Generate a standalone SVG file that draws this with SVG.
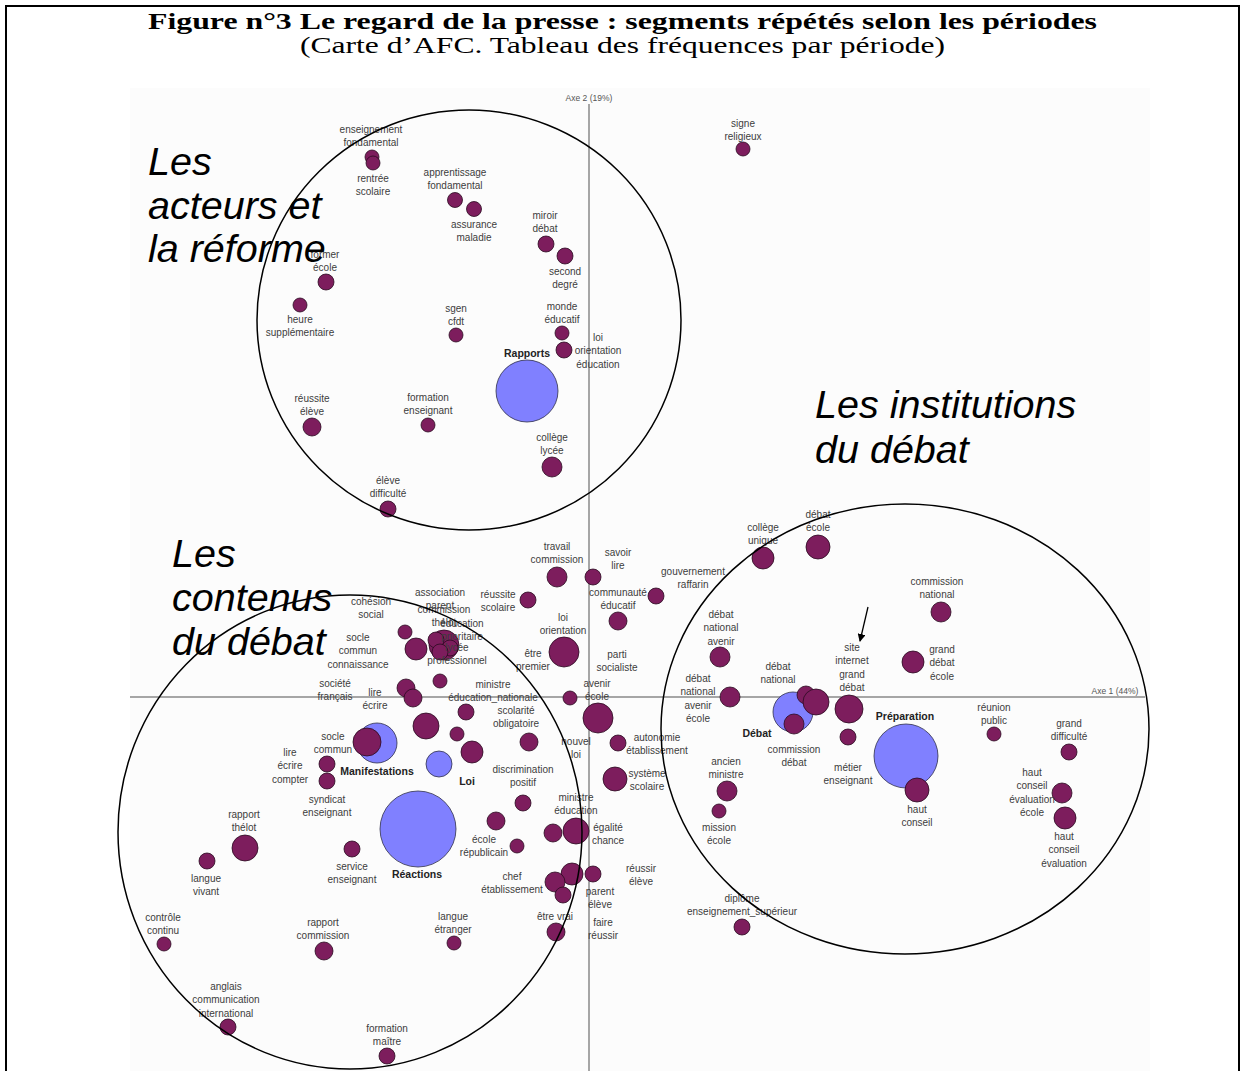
<svg xmlns="http://www.w3.org/2000/svg" width="1245" height="1071" viewBox="0 0 1245 1071">
<style>
.p{fill:#7d1d5d;stroke:#2a0a20;stroke-width:0.8}
.b{fill:#8080ff;stroke:#30304a;stroke-width:0.8}
.l{font-family:"Liberation Sans",Arial,sans-serif;font-size:10px;fill:#3c3c3c;text-anchor:middle}
.lb{font-family:"Liberation Sans",Arial,sans-serif;font-size:10.5px;font-weight:bold;fill:#222;text-anchor:middle}
.big{font-family:"Liberation Sans",Arial,sans-serif;font-style:italic;font-size:39.5px;fill:#000}
.zone{fill:none;stroke:#000;stroke-width:1.5}
.axis{stroke:#8a8a8a;stroke-width:1.5}
.ax{font-family:"Liberation Sans",Arial,sans-serif;font-size:8.5px;fill:#555;text-anchor:middle}
.t{font-family:"Liberation Serif","Times New Roman",serif;font-size:23px;fill:#000;text-anchor:middle}
</style>
<defs>
<marker id="ah" markerWidth="8" markerHeight="8" refX="7" refY="4" orient="auto" markerUnits="userSpaceOnUse">
<path d="M0,0 L8,4 L0,8 Z" fill="#000"/>
</marker>
</defs>
<rect x="0" y="0" width="1245" height="1071" fill="#fff"/>
<path d="M6,1071 V6 H1239 V1071" fill="none" stroke="#000" stroke-width="2"/>
<text class="t" x="622.5" y="29" font-weight="bold" textLength="949" lengthAdjust="spacingAndGlyphs">Figure n°3 Le regard de la presse : segments répétés selon les périodes</text>
<text class="t" x="622.5" y="53" textLength="645" lengthAdjust="spacingAndGlyphs">(Carte d’AFC. Tableau des fréquences par période)</text>
<rect x="130" y="88" width="1020" height="983" fill="#fcfcfc"/>
<g id="axes">
<line class="axis" x1="589" y1="104" x2="589" y2="1071"/>
<line class="axis" x1="130" y1="697" x2="1145" y2="697"/>
<text class="ax" x="589" y="101">Axe 2 (19%)</text>
<text class="ax" x="1115" y="694">Axe 1 (44%)</text>
</g>
<g id="periods">
<g id="rapports"><circle class="b" cx="527" cy="391" r="31"/><text class="lb" x="527" y="357">Rapports</text></g>
<g id="manifestations"><circle class="b" cx="377" cy="743" r="20"/><text class="lb" x="377" y="775">Manifestations</text></g>
<g id="loi"><circle class="b" cx="439" cy="764" r="13"/><text class="lb" x="467" y="785">Loi</text></g>
<g id="reactions"><circle class="b" cx="418" cy="829" r="38"/><text class="lb" x="417" y="878">Réactions</text></g>
<g id="debat"><circle class="b" cx="793" cy="712" r="20"/><text class="lb" x="757" y="737">Débat</text></g>
<g id="preparation"><circle class="b" cx="906" cy="756" r="32"/><text class="lb" x="905" y="720">Préparation</text></g>
</g>
<g id="segments">
<g id="s1"><circle class="p" cx="372" cy="157" r="7"/><text class="l" x="371" y="132.5"><tspan x="371">enseignement</tspan><tspan x="371" dy="13.5">fondamental</tspan></text></g>
<g id="s2"><circle class="p" cx="373" cy="163" r="7"/><text class="l" x="373" y="181.5"><tspan x="373">rentrée</tspan><tspan x="373" dy="13.5">scolaire</tspan></text></g>
<g id="s3"><circle class="p" cx="455" cy="200" r="7.5"/><text class="l" x="455" y="175.5"><tspan x="455">apprentissage</tspan><tspan x="455" dy="13.5">fondamental</tspan></text></g>
<g id="s4"><circle class="p" cx="474" cy="209" r="7.5"/><text class="l" x="474" y="227.5"><tspan x="474">assurance</tspan><tspan x="474" dy="13.5">maladie</tspan></text></g>
<g id="s5"><circle class="p" cx="546" cy="244" r="8"/><text class="l" x="545" y="218.5"><tspan x="545">miroir</tspan><tspan x="545" dy="13.5">débat</tspan></text></g>
<g id="s6"><circle class="p" cx="565" cy="256" r="8"/><text class="l" x="565" y="274.5"><tspan x="565">second</tspan><tspan x="565" dy="13.5">degré</tspan></text></g>
<g id="s7"><circle class="p" cx="326" cy="282" r="8"/><text class="l" x="325" y="257.5"><tspan x="325">former</tspan><tspan x="325" dy="13.5">école</tspan></text></g>
<g id="s8"><circle class="p" cx="300" cy="305" r="7"/><text class="l" x="300" y="322.5"><tspan x="300">heure</tspan><tspan x="300" dy="13.5">supplémentaire</tspan></text></g>
<g id="s9"><circle class="p" cx="456" cy="335" r="7"/><text class="l" x="456" y="311.5"><tspan x="456">sgen</tspan><tspan x="456" dy="13.5">cfdt</tspan></text></g>
<g id="s10"><circle class="p" cx="562" cy="333" r="7"/><text class="l" x="562" y="309.5"><tspan x="562">monde</tspan><tspan x="562" dy="13.5">éducatif</tspan></text></g>
<g id="s11"><circle class="p" cx="564" cy="350" r="8"/><text class="l" x="598" y="340.5"><tspan x="598">loi</tspan><tspan x="598" dy="13.5">orientation</tspan><tspan x="598" dy="13.5">éducation</tspan></text></g>
<g id="s12"><circle class="p" cx="312" cy="427" r="9"/><text class="l" x="312" y="401.5"><tspan x="312">réussite</tspan><tspan x="312" dy="13.5">élève</tspan></text></g>
<g id="s13"><circle class="p" cx="428" cy="425" r="7"/><text class="l" x="428" y="400.5"><tspan x="428">formation</tspan><tspan x="428" dy="13.5">enseignant</tspan></text></g>
<g id="s14"><circle class="p" cx="552" cy="467" r="10"/><text class="l" x="552" y="440.5"><tspan x="552">collège</tspan><tspan x="552" dy="13.5">lycée</tspan></text></g>
<g id="s15"><circle class="p" cx="388" cy="509" r="8"/><text class="l" x="388" y="483.5"><tspan x="388">élève</tspan><tspan x="388" dy="13.5">difficulté</tspan></text></g>
<g id="s16"><circle class="p" cx="743" cy="149" r="7"/><text class="l" x="743" y="126.5"><tspan x="743">signe</tspan><tspan x="743" dy="13.5">religieux</tspan></text></g>
<g id="s17"><circle class="p" cx="557" cy="577" r="10"/><text class="l" x="557" y="549.5"><tspan x="557">travail</tspan><tspan x="557" dy="13.5">commission</tspan></text></g>
<g id="s18"><circle class="p" cx="593" cy="577" r="8"/><text class="l" x="618" y="555.5"><tspan x="618">savoir</tspan><tspan x="618" dy="13.5">lire</tspan></text></g>
<g id="s19"><circle class="p" cx="528" cy="600" r="8"/><text class="l" x="498" y="597.5"><tspan x="498">réussite</tspan><tspan x="498" dy="13.5">scolaire</tspan></text></g>
<g id="s20"><circle class="p" cx="618" cy="621" r="9"/><text class="l" x="618" y="595.5"><tspan x="618">communauté</tspan><tspan x="618" dy="13.5">éducatif</tspan></text></g>
<g id="s21"><circle class="p" cx="656" cy="596" r="8"/><text class="l" x="693" y="574.5"><tspan x="693">gouvernement</tspan><tspan x="693" dy="13.5">raffarin</tspan></text></g>
<g id="s22"><circle class="p" cx="564" cy="652" r="15"/><text class="l" x="563" y="620.5"><tspan x="563">loi</tspan><tspan x="563" dy="13.5">orientation</tspan></text></g>
<g id="s23"><circle class="p" cx="570" cy="698" r="7"/><text class="l" x="533" y="656.5"><tspan x="533">être</tspan><tspan x="533" dy="13.5">premier</tspan></text></g>
<g id="s24"><text class="l" x="617" y="657.5"><tspan x="617">parti</tspan><tspan x="617" dy="13.5">socialiste</tspan></text></g>
<g id="s25"><circle class="p" cx="405" cy="632" r="7"/><text class="l" x="371" y="604.5"><tspan x="371">cohésion</tspan><tspan x="371" dy="13.5">social</tspan></text></g>
<g id="s26"><circle class="p" cx="416" cy="649" r="11"/><text class="l" x="358" y="640.5"><tspan x="358">socle</tspan><tspan x="358" dy="13.5">commun</tspan><tspan x="358" dy="13.5">connaissance</tspan></text></g>
<g id="s27"><circle class="p" cx="444" cy="645" r="15"/><text class="l" x="440" y="595.5"><tspan x="440">association</tspan><tspan x="440" dy="13.5">parent</tspan></text></g>
<g id="s28"><circle class="p" cx="436" cy="640" r="8"/><text class="l" x="444" y="612.5"><tspan x="444">commission</tspan><tspan x="444" dy="13.5">thélot</tspan></text></g>
<g id="s29"><circle class="p" cx="450" cy="648" r="8"/><text class="l" x="462" y="626.5"><tspan x="462">éducation</tspan><tspan x="462" dy="13.5">prioritaire</tspan></text></g>
<g id="s30"><circle class="p" cx="440" cy="652" r="8"/><text class="l" x="457" y="650.5"><tspan x="457">lycée</tspan><tspan x="457" dy="13.5">professionnel</tspan></text></g>
<g id="s31"><circle class="p" cx="440" cy="681" r="7"/><text class="l" x="493" y="687.5"><tspan x="493">ministre</tspan><tspan x="493" dy="13.5">éducation_nationale</tspan></text></g>
<g id="s32"><circle class="p" cx="406" cy="688" r="9"/><text class="l" x="335" y="686.5"><tspan x="335">société</tspan><tspan x="335" dy="13.5">français</tspan></text></g>
<g id="s33"><circle class="p" cx="413" cy="698" r="9"/><text class="l" x="375" y="695.5"><tspan x="375">lire</tspan><tspan x="375" dy="13.5">écrire</tspan></text></g>
<g id="s34"><circle class="p" cx="426" cy="726" r="13"/></g>
<g id="s35"><circle class="p" cx="466" cy="712" r="8"/></g>
<g id="s36"><circle class="p" cx="457" cy="734" r="7"/></g>
<g id="s37"><circle class="p" cx="472" cy="752" r="11"/></g>
<g id="s38"><circle class="p" cx="529" cy="742" r="9"/><text class="l" x="516" y="713.5"><tspan x="516">scolarité</tspan><tspan x="516" dy="13.5">obligatoire</tspan></text></g>
<g id="s39"><circle class="p" cx="367" cy="742" r="14"/><text class="l" x="333" y="739.5"><tspan x="333">socle</tspan><tspan x="333" dy="13.5">commun</tspan></text></g>
<g id="s40"><circle class="p" cx="327" cy="764" r="8"/><text class="l" x="290" y="755.5"><tspan x="290">lire</tspan><tspan x="290" dy="13.5">écrire</tspan><tspan x="290" dy="13.5">compter</tspan></text></g>
<g id="s41"><circle class="p" cx="327" cy="781" r="8"/><text class="l" x="327" y="802.5"><tspan x="327">syndicat</tspan><tspan x="327" dy="13.5">enseignant</tspan></text></g>
<g id="s42"><circle class="p" cx="598" cy="718" r="15"/><text class="l" x="597" y="686.5"><tspan x="597">avenir</tspan><tspan x="597" dy="13.5">école</tspan></text></g>
<g id="s43"><text class="l" x="576" y="744.5"><tspan x="576">nouvel</tspan><tspan x="576" dy="13.5">loi</tspan></text></g>
<g id="s44"><circle class="p" cx="618" cy="743" r="8"/><text class="l" x="657" y="740.5"><tspan x="657">autonomie</tspan><tspan x="657" dy="13.5">établissement</tspan></text></g>
<g id="s45"><circle class="p" cx="615" cy="779" r="12"/><text class="l" x="647" y="776.5"><tspan x="647">système</tspan><tspan x="647" dy="13.5">scolaire</tspan></text></g>
<g id="s46"><circle class="p" cx="523" cy="803" r="8"/><text class="l" x="523" y="772.5"><tspan x="523">discrimination</tspan><tspan x="523" dy="13.5">positif</tspan></text></g>
<g id="s47"><circle class="p" cx="496" cy="821" r="9"/></g>
<g id="s48"><circle class="p" cx="517" cy="846" r="7"/><text class="l" x="484" y="842.5"><tspan x="484">école</tspan><tspan x="484" dy="13.5">républicain</tspan></text></g>
<g id="s49"><circle class="p" cx="553" cy="833" r="9"/></g>
<g id="s50"><circle class="p" cx="576" cy="831" r="13"/><text class="l" x="576" y="800.5"><tspan x="576">ministre</tspan><tspan x="576" dy="13.5">éducation</tspan></text></g>
<g id="s51"><text class="l" x="608" y="830.5"><tspan x="608">égalité</tspan><tspan x="608" dy="13.5">chance</tspan></text></g>
<g id="s52"><circle class="p" cx="572" cy="874" r="11"/><circle class="p" cx="555" cy="882" r="10"/><circle class="p" cx="563" cy="895" r="8"/><text class="l" x="512" y="879.5"><tspan x="512">chef</tspan><tspan x="512" dy="13.5">établissement</tspan></text></g>
<g id="s53"><circle class="p" cx="593" cy="874" r="8"/><text class="l" x="600" y="894.5"><tspan x="600">parent</tspan><tspan x="600" dy="13.5">élève</tspan></text></g>
<g id="s54"><text class="l" x="641" y="871.5"><tspan x="641">réussir</tspan><tspan x="641" dy="13.5">élève</tspan></text></g>
<g id="s55"><circle class="p" cx="556" cy="932" r="9"/><text class="l" x="555" y="919.5">être vrai</text></g>
<g id="s56"><text class="l" x="603" y="925.5"><tspan x="603">faire</tspan><tspan x="603" dy="13.5">réussir</tspan></text></g>
<g id="s57"><circle class="p" cx="454" cy="943" r="7"/><text class="l" x="453" y="919.5"><tspan x="453">langue</tspan><tspan x="453" dy="13.5">étranger</tspan></text></g>
<g id="s58"><circle class="p" cx="245" cy="848" r="13"/><text class="l" x="244" y="817.5"><tspan x="244">rapport</tspan><tspan x="244" dy="13.5">thélot</tspan></text></g>
<g id="s59"><circle class="p" cx="207" cy="861" r="8"/><text class="l" x="206" y="881.5"><tspan x="206">langue</tspan><tspan x="206" dy="13.5">vivant</tspan></text></g>
<g id="s60"><circle class="p" cx="352" cy="849" r="8"/><text class="l" x="352" y="869.5"><tspan x="352">service</tspan><tspan x="352" dy="13.5">enseignant</tspan></text></g>
<g id="s61"><circle class="p" cx="164" cy="944" r="7"/><text class="l" x="163" y="920.5"><tspan x="163">contrôle</tspan><tspan x="163" dy="13.5">continu</tspan></text></g>
<g id="s62"><circle class="p" cx="324" cy="951" r="9"/><text class="l" x="323" y="925.5"><tspan x="323">rapport</tspan><tspan x="323" dy="13.5">commission</tspan></text></g>
<g id="s63"><circle class="p" cx="228" cy="1027" r="8"/><text class="l" x="226" y="989.5"><tspan x="226">anglais</tspan><tspan x="226" dy="13.5">communication</tspan><tspan x="226" dy="13.5">international</tspan></text></g>
<g id="s64"><circle class="p" cx="387" cy="1056" r="8"/><text class="l" x="387" y="1031.5"><tspan x="387">formation</tspan><tspan x="387" dy="13.5">maître</tspan></text></g>
<g id="s65"><circle class="p" cx="763" cy="558" r="11"/><text class="l" x="763" y="530.5"><tspan x="763">collège</tspan><tspan x="763" dy="13.5">unique</tspan></text></g>
<g id="s66"><circle class="p" cx="818" cy="547" r="12"/><text class="l" x="818" y="517.5"><tspan x="818">débat</tspan><tspan x="818" dy="13.5">école</tspan></text></g>
<g id="s67"><circle class="p" cx="941" cy="612" r="10"/><text class="l" x="937" y="584.5"><tspan x="937">commission</tspan><tspan x="937" dy="13.5">national</tspan></text></g>
<g id="s68"><circle class="p" cx="720" cy="657" r="10"/><text class="l" x="721" y="617.5"><tspan x="721">débat</tspan><tspan x="721" dy="13.5">national</tspan><tspan x="721" dy="13.5">avenir</tspan></text></g>
<g id="s69"><circle class="p" cx="913" cy="662" r="11"/><text class="l" x="942" y="652.5"><tspan x="942">grand</tspan><tspan x="942" dy="13.5">débat</tspan><tspan x="942" dy="13.5">école</tspan></text></g>
<g id="s70"><circle class="p" cx="730" cy="697" r="10"/><text class="l" x="698" y="681.5"><tspan x="698">débat</tspan><tspan x="698" dy="13.5">national</tspan><tspan x="698" dy="13.5">avenir</tspan><tspan x="698" dy="13.5">école</tspan></text></g>
<g id="s71"><circle class="p" cx="806" cy="695" r="9"/><text class="l" x="778" y="669.5"><tspan x="778">débat</tspan><tspan x="778" dy="13.5">national</tspan></text></g>
<g id="s72"><circle class="p" cx="816" cy="702" r="13"/></g>
<g id="s73"><circle class="p" cx="794" cy="724" r="10"/><text class="l" x="794" y="752.5"><tspan x="794">commission</tspan><tspan x="794" dy="13.5">débat</tspan></text></g>
<g id="s74"><circle class="p" cx="849" cy="709" r="14"/><text class="l" x="852" y="650.5"><tspan x="852">site</tspan><tspan x="852" dy="13.5">internet</tspan><tspan x="852" dy="13.5">grand</tspan><tspan x="852" dy="13.5">débat</tspan></text></g>
<g id="s75"><circle class="p" cx="848" cy="737" r="8"/><text class="l" x="848" y="770.5"><tspan x="848">métier</tspan><tspan x="848" dy="13.5">enseignant</tspan></text></g>
<g id="s76"><circle class="p" cx="917" cy="790" r="12"/><text class="l" x="917" y="812.5"><tspan x="917">haut</tspan><tspan x="917" dy="13.5">conseil</tspan></text></g>
<g id="s77"><circle class="p" cx="727" cy="791" r="10"/><text class="l" x="726" y="764.5"><tspan x="726">ancien</tspan><tspan x="726" dy="13.5">ministre</tspan></text></g>
<g id="s78"><circle class="p" cx="719" cy="811" r="7"/><text class="l" x="719" y="830.5"><tspan x="719">mission</tspan><tspan x="719" dy="13.5">école</tspan></text></g>
<g id="s79"><circle class="p" cx="742" cy="927" r="8"/><text class="l" x="742" y="901.5"><tspan x="742">diplôme</tspan><tspan x="742" dy="13.5">enseignement_supérieur</tspan></text></g>
<g id="s80"><circle class="p" cx="994" cy="734" r="7"/><text class="l" x="994" y="710.5"><tspan x="994">réunion</tspan><tspan x="994" dy="13.5">public</tspan></text></g>
<g id="s81"><circle class="p" cx="1069" cy="752" r="8"/><text class="l" x="1069" y="726.5"><tspan x="1069">grand</tspan><tspan x="1069" dy="13.5">difficulté</tspan></text></g>
<g id="s82"><circle class="p" cx="1062" cy="793" r="10"/><text class="l" x="1032" y="775.5"><tspan x="1032">haut</tspan><tspan x="1032" dy="13.5">conseil</tspan><tspan x="1032" dy="13.5">évaluation</tspan><tspan x="1032" dy="13.5">école</tspan></text></g>
<g id="s83"><circle class="p" cx="1065" cy="818" r="11"/><text class="l" x="1064" y="839.5"><tspan x="1064">haut</tspan><tspan x="1064" dy="13.5">conseil</tspan><tspan x="1064" dy="13.5">évaluation</tspan></text></g>
</g>
<g id="connectors">
<line x1="868" y1="607" x2="860" y2="641" stroke="#000" stroke-width="1.3" marker-end="url(#ah)"/>
</g>
<g id="zones">
<ellipse class="zone" cx="469" cy="320" rx="212" ry="210"/>
<ellipse class="zone" cx="350" cy="832" rx="232" ry="237"/>
<ellipse class="zone" cx="905" cy="729" rx="244" ry="225"/>
</g>
<g id="zone-labels">
<text class="big" x="148" y="175">Les</text>
<text class="big" x="148" y="219">acteurs et</text>
<text class="big" x="148" y="262">la réforme</text>
<text class="big" x="815" y="418">Les institutions</text>
<text class="big" x="815" y="463">du débat</text>
<text class="big" x="172" y="567">Les</text>
<text class="big" x="172" y="611">contenus</text>
<text class="big" x="172" y="655">du débat</text>
</g>
</svg>
